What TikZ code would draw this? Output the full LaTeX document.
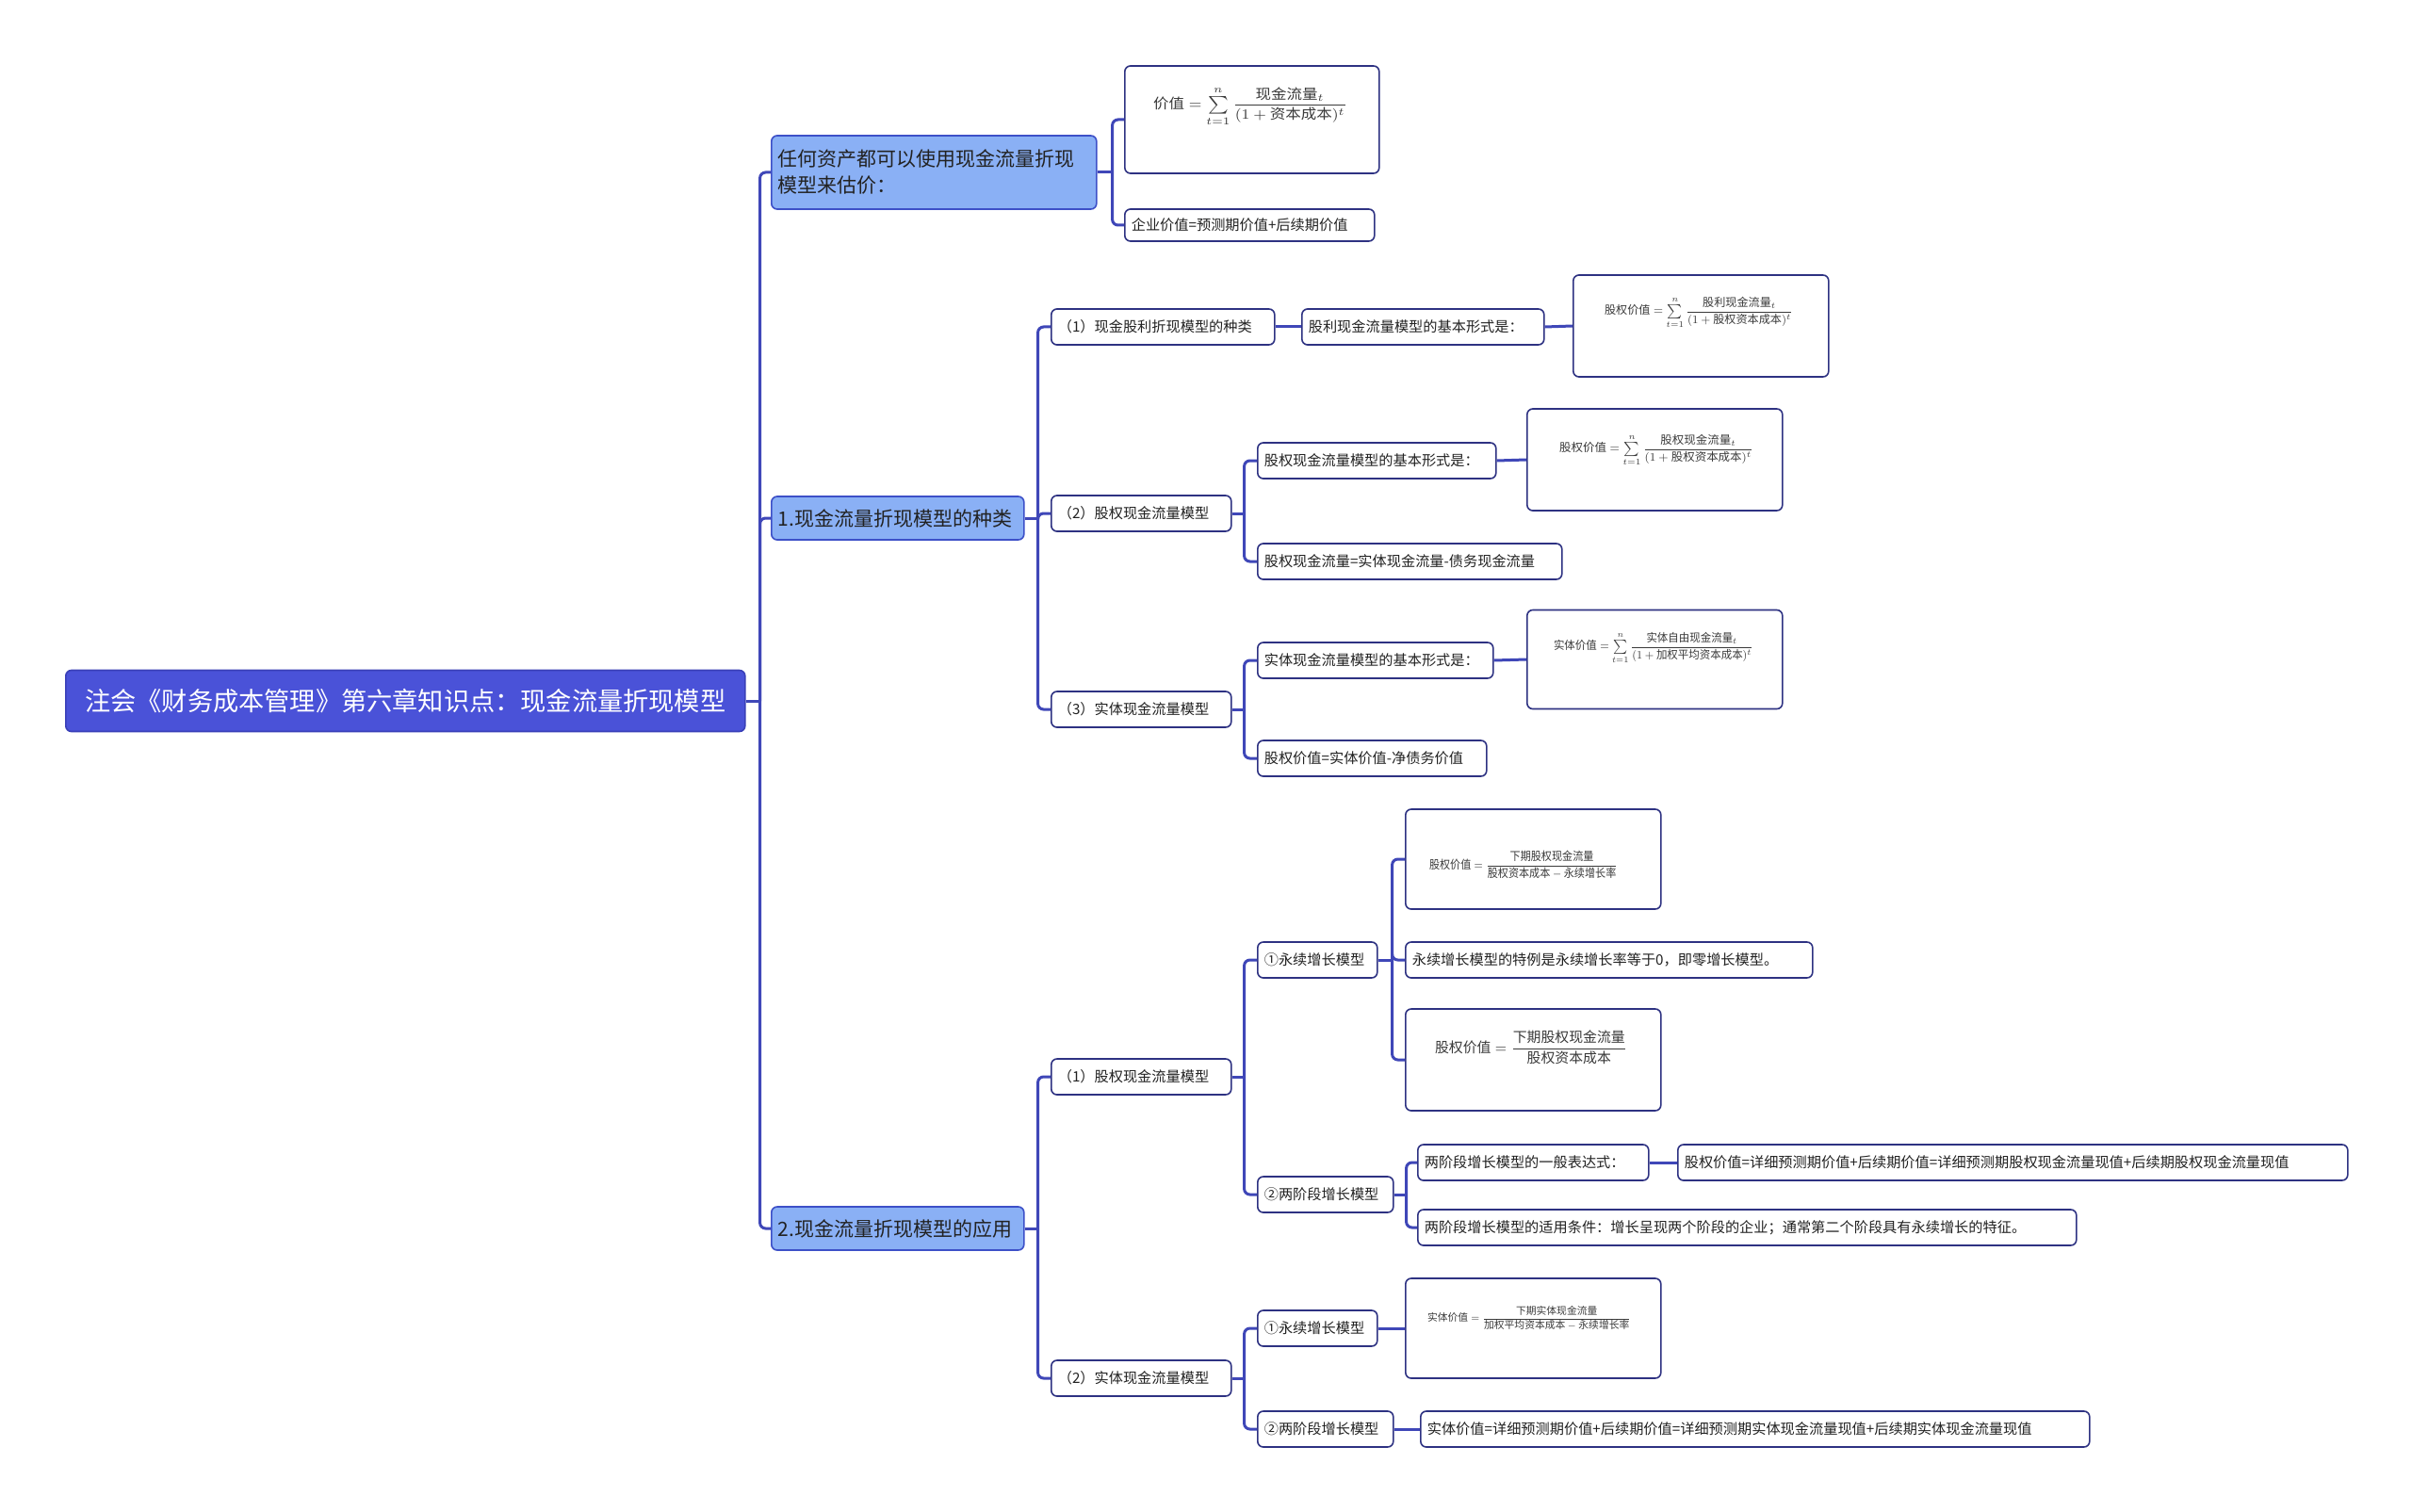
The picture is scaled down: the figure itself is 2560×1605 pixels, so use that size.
\documentclass[tikz,border=0pt]{standalone}
\usepackage{fontspec}
\setmainfont{Noto Sans CJK SC}
\usepackage{graphicx}
\usetikzlibrary{calc}
\definecolor{rootc}{HTML}{4A52D8}
\definecolor{rootb}{HTML}{3A40B8}
\definecolor{lonec}{HTML}{8AB0F5}
\definecolor{loneb}{HTML}{3D50C8}
\definecolor{leafb}{HTML}{2E3282}
\definecolor{connc}{HTML}{3F47B8}
\definecolor{txt}{HTML}{222222}
\definecolor{fgray}{HTML}{3A3A3A}
\newcommand{\zh}[1]{\mbox{#1}}
\newcommand{\smt}{\mathop{\textstyle\sum}\limits_{t=1}^{n}}
\begin{document}
\begin{tikzpicture}[x=0.5pt,y=-0.5pt,
  rootn/.style={fill=rootc,draw=rootb,line width=0.8pt,rounded corners=3pt,text=white,
    font=\fontsize{13.6}{16}\selectfont,anchor=west,inner sep=0pt,
    minimum width=360.5pt,minimum height=32.5pt},
  lone/.style 2 args={fill=lonec,draw=loneb,line width=0.8pt,rounded corners=3pt,text=txt,
    font=\fontsize{10.5}{14}\selectfont,anchor=west,align=left,inner xsep=3.5pt,inner ysep=0pt,
    text width=#1*0.5pt-7pt,minimum height=#2*0.5pt},
  leaf/.style 2 args={fill=white,draw=leafb,line width=0.8pt,rounded corners=3pt,text=txt,
    font=\fontsize{7.6}{9}\selectfont,anchor=west,align=left,inner xsep=3.5pt,inner ysep=0pt,
    text width=#1*0.5pt-7pt,minimum height=#2*0.5pt},
  fbox/.style 2 args={fill=white,draw=leafb,line width=0.8pt,rounded corners=3pt,anchor=west,
    inner sep=0pt,minimum width=#1*0.5pt,minimum height=#2*0.5pt},
  fml/.style={text=fgray,inner sep=0pt,font=\fontsize{8}{9}\selectfont},
  conn/.style={draw=connc,line width=1.5pt,rounded corners=3pt}
]
\fill[white] (0,0) rectangle (2560,1605);
\useasboundingbox (0,0) rectangle (2560,1605);

% root and level 1
\node[rootn] (root) at (69,744) {注会《财务成本管理》第六章知识点：现金流量折现模型};
\node[lone={345}{78}] (A) at (818,183) {任何资产都可以使用现金流量折现\\模型来估价：};
\node[lone={268}{46}] (B) at (818,550) {1.现金流量折现模型的种类};
\node[lone={268}{46}] (C) at (818,1304) {2.现金流量折现模型的应用};

% A children
\node[fbox={270}{114}] (Af) at (1193,127) {};
\node[fml] (Aft) at (1327,113) {\resizebox*{103pt}{21pt}{$\zh{价值} = \smt\displaystyle\frac{\zh{现金流量}_t}{(1+\zh{资本成本})^t}$}};
\node[leaf={265}{34}] (Av) at (1193,239) {企业价值=预测期价值+后续期价值};

% B children
\node[leaf={237}{38}] (B1) at (1115,347) {（1）现金股利折现模型的种类};
\node[leaf={257}{38}] (B1a) at (1381,347) {股利现金流量模型的基本形式是：};
\node[fbox={271}{108}] (B1f) at (1669,346) {};
\node[fml] (B1ft) at (1803,332) {\resizebox*{100pt}{17pt}{$\zh{股权价值} = \smt\displaystyle\frac{\zh{股利现金流量}_t}{(1+\zh{股权资本成本})^t}$}};

\node[leaf={191}{38}] (B2) at (1115,545) {（2）股权现金流量模型};
\node[leaf={253}{38}] (B2a) at (1334,489) {股权现金流量模型的基本形式是：};
\node[fbox={271}{108}] (B2f) at (1620,488) {};
\node[fml] (B2ft) at (1758,478) {\resizebox*{103pt}{17pt}{$\zh{股权价值} = \smt\displaystyle\frac{\zh{股权现金流量}_t}{(1+\zh{股权资本成本})^t}$}};
\node[leaf={323}{38}] (B2b) at (1334,596) {股权现金流量=实体现金流量-债务现金流量};

\node[leaf={191}{38}] (B3) at (1115,753) {（3）实体现金流量模型};
\node[leaf={250}{38}] (B3a) at (1334,701) {实体现金流量模型的基本形式是：};
\node[fbox={271}{105}] (B3f) at (1620,700) {};
\node[fml] (B3ft) at (1755,688) {\resizebox*{106pt}{17pt}{$\zh{实体价值} = \smt\displaystyle\frac{\zh{实体自由现金流量}_t}{(1+\zh{加权平均资本成本})^t}$}};
\node[leaf={243}{38}] (B3b) at (1334,805) {股权价值=实体价值-净债务价值};

% C children
\node[leaf={191}{38}] (C1) at (1115,1143) {（1）股权现金流量模型};
\node[leaf={127}{38}] (C1a) at (1334,1019) {①永续增长模型};
\node[fbox={271}{106}] (C1af) at (1491,912) {};
\node[fml] (C1aft) at (1617,918) {\resizebox*{100pt}{15pt}{$\displaystyle \zh{股权价值} = \frac{\zh{下期股权现金流量}}{\zh{股权资本成本}-\zh{永续增长率}}$}};
\node[leaf={432}{38}] (C1ab) at (1491,1019) {永续增长模型的特例是永续增长率等于0，即零增长模型。};
\node[fbox={271}{108}] (C1ac) at (1491,1125) {};
\node[fml] (C1act) at (1625,1112) {\resizebox*{102pt}{18pt}{$\displaystyle \zh{股权价值} = \frac{\zh{下期股权现金流量}}{\zh{股权资本成本}}$}};
\node[leaf={144}{38}] (C1b) at (1334,1268) {②两阶段增长模型};
\node[leaf={245}{38}] (C1ba) at (1504,1234) {两阶段增长模型的一般表达式：};
\node[leaf={711}{38}] (C1bb) at (1780,1234) {股权价值=详细预测期价值+后续期价值=详细预测期股权现金流量现值+后续期股权现金流量现值};
\node[leaf={699}{38}] (C1bc) at (1504,1303) {两阶段增长模型的适用条件：增长呈现两个阶段的企业；通常第二个阶段具有永续增长的特征。};

\node[leaf={191}{38}] (C2) at (1115,1463) {（2）实体现金流量模型};
\node[leaf={127}{38}] (C2a) at (1334,1410) {①永续增长模型};
\node[fbox={271}{106}] (C2af) at (1491,1410) {};
\node[fml] (C2aft) at (1623,1399) {\resizebox*{108pt}{13pt}{$\displaystyle \zh{实体价值} = \frac{\zh{下期实体现金流量}}{\zh{加权平均资本成本}-\zh{永续增长率}}$}};
\node[leaf={144}{38}] (C2b) at (1334,1517) {②两阶段增长模型};
\node[leaf={710}{38}] (C2bb) at (1507,1517) {实体价值=详细预测期价值+后续期价值=详细预测期实体现金流量现值+后续期实体现金流量现值};

% junction coordinates
\coordinate (jroot) at ($(root.east)+(15,0)$);
\coordinate (jA) at ($(A.east)+(16,0)$);
\coordinate (jB) at ($(B.east)+(14,0)$);
\coordinate (jB2) at ($(B2.east)+(13,0)$);
\coordinate (jB3) at ($(B3.east)+(13,0)$);
\coordinate (jC) at ($(C.east)+(14,0)$);
\coordinate (jC1) at ($(C1.east)+(13,0)$);
\coordinate (jC1a) at ($(C1a.east)+(15,0)$);
\coordinate (jC1b) at ($(C1b.east)+(13,0)$);
\coordinate (jC2) at ($(C2.east)+(13,0)$);

% connectors
\draw[conn] (root.east) -- (jroot);
\foreach \c in {A,B,C} \draw[conn] (jroot) |- (\c.west);
\draw[conn] (A.east) -- (jA);
\foreach \c in {Af,Av} \draw[conn] (jA) |- (\c.west);
\draw[conn] (B.east) -- (jB);
\foreach \c in {B1,B2,B3} \draw[conn] (jB) |- (\c.west);
\draw[conn] (B1.east) -- (B1a.west);
\draw[conn] (B1a.east) -- (B1f.west);
\draw[conn] (B2.east) -- (jB2);
\foreach \c in {B2a,B2b} \draw[conn] (jB2) |- (\c.west);
\draw[conn] (B2a.east) -- (B2f.west);
\draw[conn] (B3.east) -- (jB3);
\foreach \c in {B3a,B3b} \draw[conn] (jB3) |- (\c.west);
\draw[conn] (B3a.east) -- (B3f.west);
\draw[conn] (C.east) -- (jC);
\foreach \c in {C1,C2} \draw[conn] (jC) |- (\c.west);
\draw[conn] (C1.east) -- (jC1);
\foreach \c in {C1a,C1b} \draw[conn] (jC1) |- (\c.west);
\draw[conn] (C1a.east) -- (jC1a);
\foreach \c in {C1af,C1ab,C1ac} \draw[conn] (jC1a) |- (\c.west);
\draw[conn] (C1b.east) -- (jC1b);
\foreach \c in {C1ba,C1bc} \draw[conn] (jC1b) |- (\c.west);
\draw[conn] (C1ba.east) -- (C1bb.west);
\draw[conn] (C2.east) -- (jC2);
\foreach \c in {C2a,C2b} \draw[conn] (jC2) |- (\c.west);
\draw[conn] (C2a.east) -- (C2af.west);
\draw[conn] (C2b.east) -- (C2bb.west);
\end{tikzpicture}
\end{document}
